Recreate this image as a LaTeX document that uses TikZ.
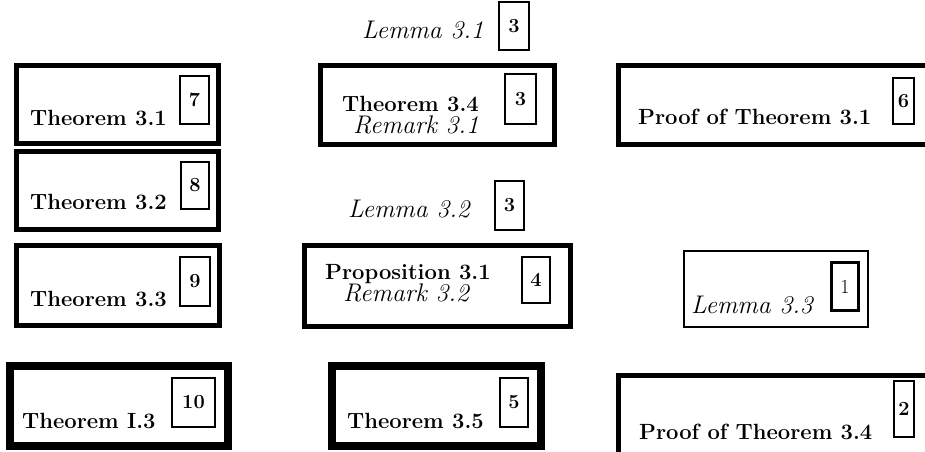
\documentclass[tikz,border=0pt]{standalone}
\begin{document}
\begin{tikzpicture}[x=1pt,y=-1pt,
  frame/.style={draw=black,line width=#1},
  frame/.default=5,
  tag/.style={draw=black,line width=2,inner sep=0pt,minimum width=#1},
  bftext/.style={anchor=base west,inner sep=0pt,font=\fontsize{22}{26}\selectfont\bfseries},
  ittext/.style={anchor=base west,inner sep=0pt,font=\fontsize{25.5}{30}\selectfont\itshape},
  bfnum/.style={font=\fontsize{20}{24}\selectfont\bfseries},
  rmnum/.style={font=\fontsize{20}{24}\selectfont}]
\useasboundingbox (0,0) rectangle (925,451);
\begin{scope}
\clip (0,0) rectangle (925,451);
% outer frames
\draw[frame] (16.5,65.5) rectangle (218.5,143.5);
\draw[frame] (320.5,65.5) rectangle (554.5,144.5);
\draw[frame] (618.5,65.5) rectangle (940,144.5);
\draw[frame] (16.5,151.5) rectangle (218.5,229.5);
\draw[frame] (16.5,245.5) rectangle (219.5,325.5);
\draw[frame] (304.5,245.5) rectangle (570.5,326.5);
\draw[frame=2] (684,251) rectangle (868,327);
\draw[frame=8] (10,366) rectangle (228,446);
\draw[frame=8] (332,366) rectangle (541,446);
\draw[frame] (618.5,375.5) rectangle (940,470);
\end{scope}

% labels
\node[bftext] (t31) at (30,125) {Theorem 3.1};
\node[ittext] (l31) at (362,38) {Lemma 3.1};
\node[bftext] (t34) at (342,111) {Theorem 3.4};
\node[ittext] (r31) at (353,133) {Remark 3.1};
\node[bftext] (p31) at (638,124) {Proof of Theorem 3.1};
\node[bftext] (t32) at (30,209) {Theorem 3.2};
\node[ittext] (l32) at (348,217) {Lemma 3.2};
\node[bftext] (t33) at (30,306) {Theorem 3.3};
\node[bftext] (pr31) at (325,279) {Proposition 3.1};
\node[ittext] (r32) at (343,301) {Remark 3.2};
\node[ittext] (l33) at (691,313) {Lemma 3.3};
\node[bftext] (ti3) at (22,428) {Theorem I.3};
\node[bftext] (t35) at (347,428) {Theorem 3.5};
\node[bftext] (p34) at (639,439) {Proof of Theorem 3.4};

% numbered tags
\node[tag=29,minimum height=48,bfnum] (n7) at (194.5,100) {7};
\node[tag=30,minimum height=48,bfnum] (n3a) at (514,26) {3};
\node[tag=31,minimum height=50,bfnum] (n3b) at (520.5,99) {3};
\node[tag=21,minimum height=46,bfnum] (n6) at (903.5,101) {6};
\node[tag=28,minimum height=47,bfnum] (n8) at (195,185.5) {8};
\node[tag=29,minimum height=49,bfnum] (n3c) at (509.5,205.5) {3};
\node[tag=30,minimum height=49,bfnum] (n9) at (195,281.5) {9};
\node[tag=28,minimum height=46,bfnum] (n4) at (536,280) {4};
\node[tag=27,minimum height=48,line width=3,rmnum] (n1) at (845,286.5) {1};
\node[tag=43,minimum height=49,bfnum] (n10) at (193.5,402.5) {10};
\node[tag=28,minimum height=49,bfnum] (n5) at (514,402.5) {5};
\node[tag=20,minimum height=56,bfnum] (n2) at (904,409) {2};
\end{tikzpicture}
\end{document}
